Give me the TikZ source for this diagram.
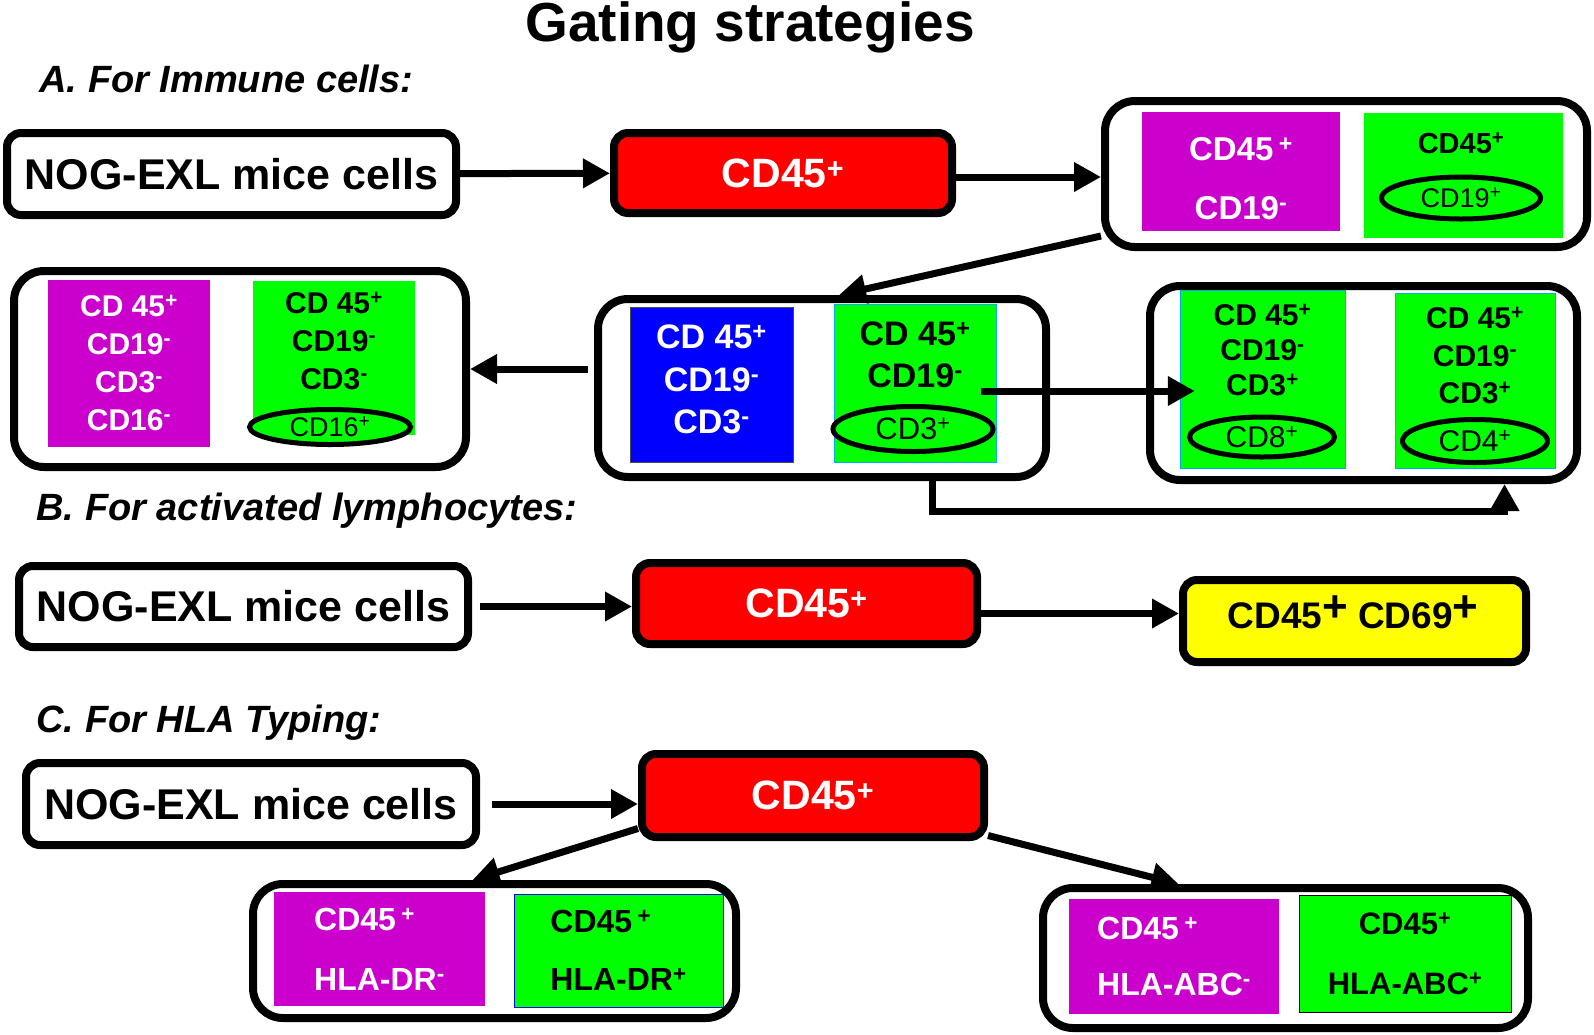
\documentclass[tikz,border=0pt]{standalone}
\usepackage{fontspec}
\setmainfont{Liberation Sans}
\usetikzlibrary{positioning, arrows.meta, shapes.geometric, calc}

\definecolor{gatered}{RGB}{255,0,0}
\definecolor{gatemag}{RGB}{204,0,204}
\definecolor{gategreen}{RGB}{0,255,0}
\definecolor{gateblue}{RGB}{0,0,255}
\definecolor{gateyellow}{RGB}{255,255,0}

\begin{document}
\begin{tikzpicture}[
            x=1pt, y=-1pt,
            every node/.style={font=\bfseries},
            heading/.style={anchor=base, font=\bfseries\fontsize{55}{60}\selectfont},
            sectlabel/.style={anchor=base west, font=\bfseries\itshape\fontsize{38}{44}\selectfont},
            micebox/.style={draw, line width=8pt, rounded corners=14pt, fill=white, inner sep=0pt,
                                           font=\bfseries\fontsize{43}{50}\selectfont},
            gatebox/.style={draw, line width=8pt, rounded corners=14pt, fill=gatered, text=white, inner sep=0pt,
                                           font=\bfseries\fontsize{41}{48}\selectfont},
            popframe/.style={draw, line width=8pt, rounded corners=30pt, fill=white, inner sep=0pt},
            negbox/.style={fill=gatemag, text=white, inner sep=0pt, align=center},
            posbox/.style={fill=gategreen, inner sep=0pt, align=center},
            poptext/.style={inner sep=0pt, align=center},
            popoval/.style={draw, ellipse, line width=5pt, fill=gategreen, inner sep=0pt,
                                           font=\fontsize{30}{36}\selectfont},
            arrow/.style={-{Triangle[length=27pt, width=28pt]}, line width=7pt}
      ]
      \useasboundingbox (0,0) rectangle (1594,1034);

      % Titles
      \node[heading] (ttl) at (750,41) {Gating strategies};
      \node[sectlabel] (secA) at (36,92) {A. For Immune cells:};
      \node[sectlabel] (secB) at (33,520) {B. For activated lymphocytes:};
      \node[sectlabel] (secC) at (33,732) {C. For HLA Typing:};

      % A: top row
      \node[micebox, minimum width=449pt, minimum height=82pt] (nogA) at (231.5,174) {NOG-EXL mice cells};
      \node[gatebox, minimum width=338pt, minimum height=80pt] (cdA) at (783,173) {CD45\textsuperscript{+}};
      \node[popframe, minimum width=482pt, minimum height=146pt] (f1) at (1346,174) {};
      \node[negbox, minimum width=198pt, minimum height=119pt] (m1) at (1241,171.5) {};
      \node[poptext, text=white, font=\bfseries\fontsize{33}{59}\selectfont]
            (m1t) at (1241,178.5) {CD45\,\textsuperscript{+}\\CD19\textsuperscript{-}};
      \node[posbox, minimum width=199pt, minimum height=125pt] (g1) at (1463.5,175.5) {};
      \node[poptext, font=\bfseries\fontsize{29}{34}\selectfont] (g1t) at (1461,143) {CD45\textsuperscript{+}};
      \node[popoval, minimum width=159pt, minimum height=42pt, font=\fontsize{27}{32}\selectfont]
            (o1) at (1461,198) {CD19\textsuperscript{+}};

      % A: second row
      \node[popframe, minimum width=452pt, minimum height=196pt] (lf) at (240,369) {};
      \node[negbox, minimum width=162pt, minimum height=167pt, font=\bfseries\fontsize{30}{38}\selectfont]
            (m2) at (129,363) {CD 45\textsuperscript{+}\\CD19\textsuperscript{-}\\CD3\textsuperscript{-}\\CD16\textsuperscript{-}};
      \node[posbox, minimum width=162pt, minimum height=154pt] (g2) at (334,358) {};
      \node[poptext, font=\bfseries\fontsize{30}{38}\selectfont]
            (g2t) at (334,341) {CD 45\textsuperscript{+}\\CD19\textsuperscript{-}\\CD3\textsuperscript{-}};
      \node[popoval, minimum width=161pt, minimum height=35pt, font=\fontsize{27}{32}\selectfont]
            (o2) at (330,427) {CD16\textsuperscript{+}};

      \node[popframe, minimum width=448pt, minimum height=178pt] (mid) at (822,388) {};
      \node[fill=gateblue, draw=black!70, thin, inner sep=0pt,
            minimum width=163pt, minimum height=155pt] (b3) at (711.5,384.5) {};
      \node[poptext, text=white, font=\bfseries\fontsize{34}{42.5}\selectfont]
            (b3t) at (711.5,379.5) {CD 45\textsuperscript{+}\\CD19\textsuperscript{-}\\CD3\textsuperscript{-}};
      \node[posbox, draw=cyan, thin, minimum width=162pt, minimum height=158pt] (g3) at (915,383) {};
      \node[poptext, font=\bfseries\fontsize{34}{42}\selectfont]
            (g3t) at (915,355) {CD 45\textsuperscript{+}\\CD19\textsuperscript{-}};
      \node[popoval, minimum width=160pt, minimum height=45pt, font=\fontsize{31}{36}\selectfont]
            (o3) at (913,429) {CD3\textsuperscript{+}};

      \node[popframe, minimum width=427pt, minimum height=194pt] (rf) at (1363.5,383) {};
      \node[posbox, draw=cyan, thin, minimum width=165pt, minimum height=178pt] (g4) at (1262.5,379) {};
      \node[poptext, font=\bfseries\fontsize{30}{35}\selectfont]
            (g4t) at (1262.5,350) {CD 45\textsuperscript{+}\\CD19\textsuperscript{-}\\CD3\textsuperscript{+}};
      \node[popoval, minimum width=145pt, minimum height=40pt] (o4) at (1262,437) {CD8\textsuperscript{+}};
      \node[posbox, draw=cyan, thin, minimum width=160pt, minimum height=175pt] (g5) at (1475,380.5) {};
      \node[poptext, font=\bfseries\fontsize{30}{37.5}\selectfont]
            (g5t) at (1475,355.5) {CD 45\textsuperscript{+}\\CD19\textsuperscript{-}\\CD3\textsuperscript{+}};
      \node[popoval, minimum width=145pt, minimum height=43pt] (o5) at (1475,441) {CD4\textsuperscript{+}};

      % B
      \node[micebox, minimum width=449pt, minimum height=81pt] (nogB) at (243.5,606.5) {NOG-EXL mice cells};
      \node[gatebox, minimum width=341pt, minimum height=81pt] (cdB) at (806.5,603.5) {CD45\textsuperscript{+}};
      \node[micebox, fill=gateyellow, minimum width=343pt, minimum height=82pt] (yb) at (1354.5,621) {};
      \node[poptext, font=\bfseries\fontsize{37}{40}\selectfont]
            (ybt) at (1353,612) {CD45\raisebox{0.2em}{\fontsize{44}{40}\selectfont+} CD69\raisebox{0.2em}{\fontsize{44}{40}\selectfont+}};

      % C
      \node[micebox, minimum width=450pt, minimum height=82pt] (nogC) at (251,804) {NOG-EXL mice cells};
      \node[gatebox, minimum width=342pt, minimum height=83pt] (cdC) at (813,795.5) {CD45\textsuperscript{+}};

      \node[popframe, minimum width=483pt, minimum height=134pt] (lh) at (494.5,951) {};
      \node[negbox, align=left, minimum width=211pt, minimum height=114pt, font=\bfseries\fontsize{32}{60}\selectfont]
            (m6) at (379.5,949) {CD45\,\textsuperscript{+}\\HLA-DR\textsuperscript{-}};
      \node[posbox, align=left, draw=blue, thin, minimum width=209pt, minimum height=113pt,
            font=\bfseries\fontsize{32}{58}\selectfont]
            (g6) at (618.5,950.5) {CD45\,\textsuperscript{+}\\HLA-DR\textsuperscript{+}};

      \node[popframe, minimum width=485pt, minimum height=140pt] (rh) at (1285.5,958) {};
      \node[negbox, align=left, minimum width=210pt, minimum height=115pt, font=\bfseries\fontsize{32}{56}\selectfont]
            (m7) at (1174,956.5) {CD45\,\textsuperscript{+}\\HLA-ABC\textsuperscript{-}};
      \node[posbox, draw=black, thin, minimum width=212pt, minimum height=117pt,
            font=\bfseries\fontsize{31}{60}\selectfont]
            (g7) at (1405,953.5) {CD45\textsuperscript{+}\\HLA-ABC\textsuperscript{+}};

      % arrows
      \draw[arrow] (nogA) -- (cdA);
      \draw[arrow] ([yshift=-4pt]cdA.east) -- ([yshift=-4pt]cdA.east -| f1.west);
      \draw[arrow] ([yshift=-62pt]f1.west) -- ([xshift=17pt]mid.north);
      \draw[arrow] ([xshift=-6pt]mid.west |- lf.east) -- (lf.east);
      \draw[arrow] ([xshift=-15pt,yshift=-8pt]g3.east) -- ([xshift=15pt,yshift=-12pt]g4.west);
      \draw[arrow] ([xshift=110pt]mid.south) -- ++(0,30) -| ([xshift=141pt]rf.south);

      \draw[arrow] ([xshift=8pt]nogB.east) -- (nogB.east -| cdB.west);
      \draw[arrow] ([yshift=-10pt]cdB.east) -- ([yshift=-10pt]cdB.east -| yb.west);

      \draw[arrow] ([xshift=12pt]nogC.east) -- (nogC.east -| cdC.west);
      \draw[arrow] ([yshift=-33pt]cdC.west) -- ([xshift=-22pt]lh.north);
      \draw[arrow] ([yshift=-40pt]cdC.east) -- ([xshift=-107pt]rh.north);
\end{tikzpicture}
\end{document}
